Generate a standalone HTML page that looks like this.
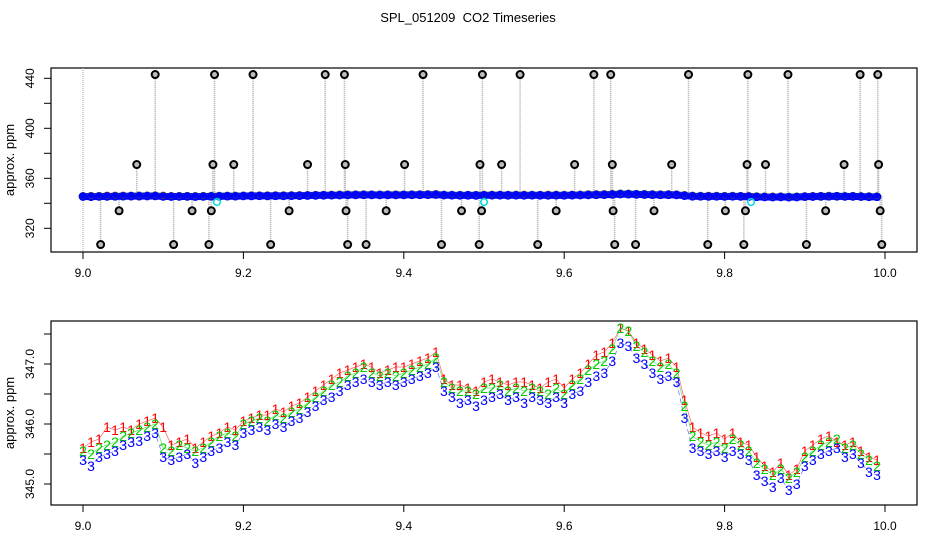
<!DOCTYPE html>
<html><head><meta charset="utf-8"><style>
body{margin:0;background:#fff}
svg{display:block;font-family:"Liberation Sans",sans-serif}
</style></head><body>
<svg id="c" width="936" height="540">
<text x="468" y="22" font-size="13" text-anchor="middle" style="white-space:pre">SPL_051209  CO2 Timeseries</text>
<rect x="51" y="68" width="866" height="184" fill="none" stroke="#000" stroke-width="1.2"/>
<rect x="51" y="321" width="866" height="184" fill="none" stroke="#000" stroke-width="1.2"/>
<text transform="translate(14,160) rotate(-90)" font-size="13" text-anchor="middle">approx. ppm</text>
<text transform="translate(14,413) rotate(-90)" font-size="13" text-anchor="middle">approx. ppm</text>
<g id="topPanel"></g>
<g id="botPanel"></g>
</svg>
<script>
const xTicks=[9.0,9.2,9.4,9.6,9.8,10.0];
const topYTicks=[320,340,360,380,400,420,440];
const topYLabels=[320,360,400,440];
const botYTicks=[345.0,345.5,346.0,346.5,347.0,347.5];
const botYLabels=[345.0,346.0,347.0];
const xStart=9.0, xStep=0.01;
const series3=[345.40,345.30,345.45,345.50,345.55,345.65,345.70,345.72,345.80,345.85,
345.45,345.40,345.45,345.50,345.35,345.45,345.55,345.60,345.70,345.65,
345.85,345.90,345.95,345.90,346.00,345.95,346.05,346.10,346.20,346.30,
346.40,346.45,346.55,346.65,346.70,346.75,346.70,346.65,346.70,346.65,
346.70,346.75,346.80,346.85,346.95,346.55,346.45,346.35,346.40,346.30,
346.40,346.45,346.50,346.40,346.45,346.35,346.45,346.40,346.35,346.45,
346.35,346.50,346.55,346.70,346.80,346.85,347.05,347.35,347.30,347.10,
347.00,346.85,346.75,346.80,346.70,346.10,345.60,345.55,345.50,345.55,
345.45,345.55,345.50,345.40,345.15,345.05,344.95,345.10,344.90,345.00,
345.30,345.40,345.50,345.55,345.60,345.45,345.50,345.35,345.20,345.15];
const series2=[345.55,345.50,345.60,345.65,345.70,345.80,345.85,345.90,345.95,346.00,
345.60,345.55,345.65,345.60,345.55,345.60,345.70,345.80,345.85,345.80,
346.00,346.05,346.10,346.05,346.15,346.10,346.20,346.25,346.35,346.45,
346.55,346.65,346.70,346.80,346.85,346.95,346.85,346.80,346.85,346.80,
346.85,346.90,346.95,347.00,347.10,346.70,346.60,346.55,346.55,346.50,
346.60,346.60,346.65,346.55,346.60,346.55,346.60,346.55,346.50,346.60,
346.50,346.65,346.75,346.90,347.00,347.05,347.25,347.60,347.55,347.30,
347.20,347.05,346.95,347.00,346.85,346.30,345.80,345.70,345.65,345.70,
345.60,345.75,345.65,345.55,345.35,345.25,345.15,345.25,345.10,345.20,
345.45,345.55,345.65,345.70,345.75,345.60,345.65,345.50,345.40,345.30];
const series1=[345.60,345.70,345.75,345.95,345.90,345.95,345.90,346.00,346.05,346.10,
345.95,345.65,345.70,345.75,345.60,345.70,345.80,345.85,345.95,345.90,
346.05,346.10,346.15,346.15,346.25,346.20,346.30,346.35,346.45,346.55,
346.65,346.75,346.85,346.90,346.95,347.00,346.95,346.85,346.90,346.95,
346.95,347.00,347.05,347.10,347.20,346.75,346.65,346.65,346.60,346.55,
346.70,346.75,346.70,346.65,346.70,346.70,346.65,346.60,346.70,346.75,
346.60,346.75,346.85,347.00,347.15,347.20,347.35,347.60,347.55,347.35,
347.25,347.15,347.05,347.10,346.95,346.40,345.95,345.85,345.80,345.85,
345.75,345.85,345.70,345.65,345.45,345.30,345.20,345.35,345.15,345.25,
345.55,345.65,345.75,345.80,345.70,345.65,345.70,345.55,345.45,345.40];
const outlierX=[9.022,9.045,9.067,9.090,9.113,9.136,9.157,9.160,9.162,9.164,9.188,9.212,9.234,9.257,9.280,9.302,9.326,9.327,9.328,9.330,9.353,9.378,9.401,9.424,9.447,9.472,9.494,9.495,9.497,9.498,9.522,9.545,9.567,9.590,9.613,9.637,9.658,9.660,9.661,9.663,9.689,9.712,9.734,9.755,9.779,9.801,9.824,9.826,9.828,9.829,9.851,9.879,9.902,9.926,9.949,9.969,9.991,9.992,9.994,9.996];
const outlierV=[307,334,371,443,307,334,307,334,371,443,371,443,307,334,371,443,443,371,334,307,307,334,371,443,307,334,307,371,334,443,371,443,307,334,371,443,443,371,334,307,307,334,371,443,307,334,307,334,371,443,371,443,307,334,371,443,443,371,334,307];
const cyanX=[9.167,9.500,9.833];
const cyanV=[341,341,341];

const NS='http://www.w3.org/2000/svg';
function mk(t,a,p){const e=document.createElementNS(NS,t);for(const k in a)e.setAttribute(k,a[k]);p.appendChild(e);return e;}
const xS=v=>83+(v-9)*802;
const yTop=v=>78.3+(440-v)*1.25;
const yBot=v=>484-(v-345)*60;
const topG=document.getElementById('topPanel'), botG=document.getElementById('botPanel');

[[topG,252],[botG,505]].forEach(([g,yb])=>{
  xTicks.forEach(t=>{
    const l=mk('line',{x1:xS(t),x2:xS(t),y1:yb,y2:yb+7,stroke:'#000'},g);
    
    
    const tx=mk('text',{x:xS(t),y:yb+25,'font-size':12,'text-anchor':'middle'},g);
    tx.textContent=t.toFixed(1);
    
    
  });
});
topYTicks.forEach(t=>{
  const l=mk('line',{x1:44,x2:51,y1:yTop(t),y2:yTop(t),stroke:'#000'},topG);
  
  
});
topYLabels.forEach(t=>{
  const tx=mk('text',{transform:`translate(34,${yTop(t)}) rotate(-90)`,'font-size':12,'text-anchor':'middle'},topG);
  tx.textContent=t;
  
  
});
botYTicks.forEach(t=>{
  const l=mk('line',{x1:44,x2:51,y1:yBot(t),y2:yBot(t),stroke:'#000'},botG);
  
  
});
botYLabels.forEach(t=>{
  const tx=mk('text',{transform:`translate(34,${yBot(t)}) rotate(-90)`,'font-size':12,'text-anchor':'middle'},botG);
  tx.textContent=t.toFixed(1);
  
  
});

const gl=mk('line',{x1:xS(9.0),x2:xS(9.0),y1:68,y2:252,stroke:'#aaa','stroke-dasharray':'1,1'},topG);


outlierX.forEach((x,i)=>{
  const l=mk('line',{x1:xS(x),x2:xS(x),y1:yTop(346),y2:yTop(outlierV[i]),stroke:'#aaa','stroke-dasharray':'1,1','stroke-width':1.5},topG);
  
  
});
const cols=['#ff0000','#00cc00','#0000ff'];
const band=mk('polyline',{points:series3.map((v,i)=>xS(xStart+i*xStep)+','+yTop(v)).join(' '),fill:'none',stroke:'#0000ff','stroke-width':7,'stroke-linecap':'round'},topG);


[series1,series2,series3].forEach((s,si)=>{
  s.forEach((v,i)=>{
    const c=mk('circle',{cx:xS(xStart+i*xStep),cy:yTop(v),r:3.3,fill:'none',stroke:cols[si],'stroke-width':2},topG);
    
    
  });
});
cyanX.forEach((x,i)=>{
  const c=mk('circle',{cx:xS(x),cy:yTop(cyanV[i]),r:3.3,fill:'none',stroke:'#00dddd','stroke-width':1.5},topG);
  
  
});
outlierX.forEach((x,i)=>{
  const c=mk('circle',{cx:xS(x),cy:yTop(outlierV[i]),r:3.5,fill:'#bbb',stroke:'#000','stroke-width':2},topG);
  
  
});

const chars=['1','2','3'];
[series1,series2,series3].forEach((s,si)=>{
  const pts=s.map((v,i)=>xS(xStart+i*xStep)+','+yBot(v)).join(' ');
  const pl=mk('polyline',{points:pts,fill:'none',stroke:cols[si],'stroke-width':0.7,'stroke-opacity':0.6,'stroke-dasharray':si==2?'5,3':'none'},botG);
  
  
});
[series1,series2,series3].forEach((s,si)=>{
  s.forEach((v,i)=>{
    const t=mk('text',{x:xS(xStart+i*xStep),y:yBot(v)+5,'font-size':14,'text-anchor':'middle',fill:cols[si]},botG);
    t.textContent=chars[si];
    
    
  });
});
</script>
</body></html>
